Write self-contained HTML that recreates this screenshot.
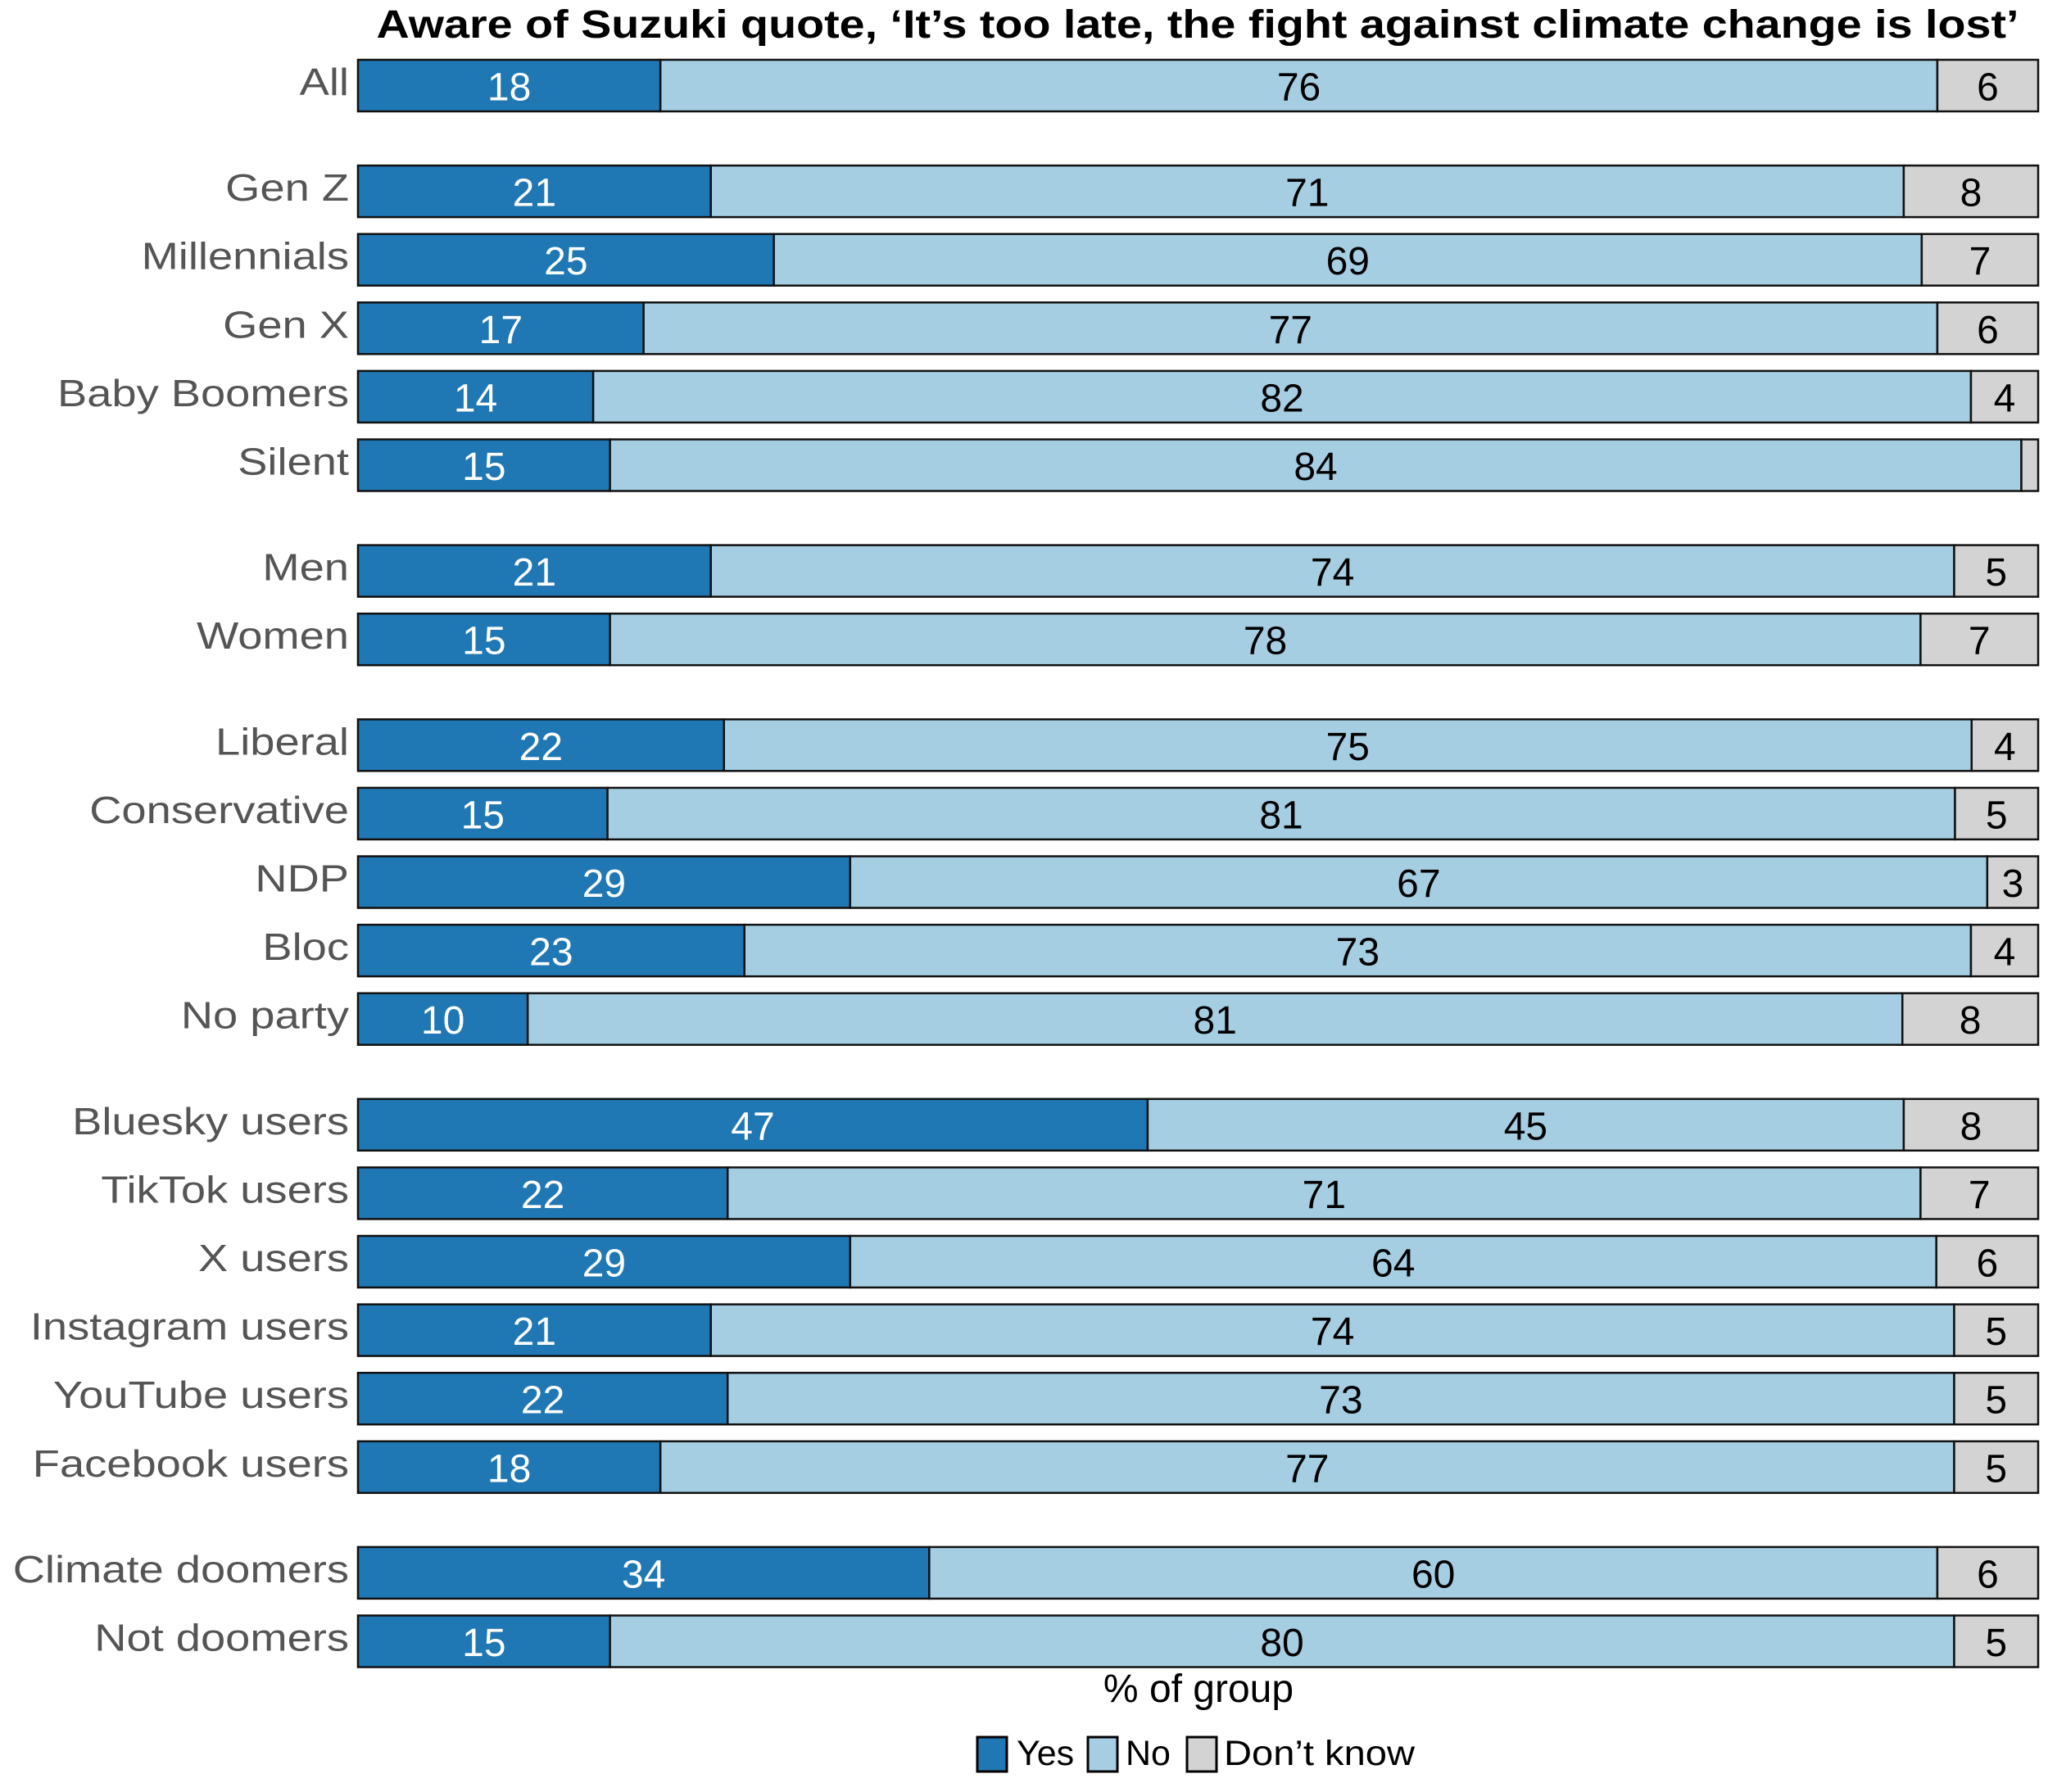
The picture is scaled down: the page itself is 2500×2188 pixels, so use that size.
<!DOCTYPE html>
<html><head><meta charset="utf-8"><style>
html,body{margin:0;padding:0;background:#fff;}
svg{display:block;font-family:"Liberation Sans",sans-serif;}
</style></head><body>
<svg id="chart" width="2500" height="2188" viewBox="0 0 2500 2188" xmlns="http://www.w3.org/2000/svg">
<text x="1462" y="46" text-anchor="middle" font-weight="bold" font-size="48" textLength="2005" lengthAdjust="spacingAndGlyphs" fill="#000">Aware of Suzuki quote, ‘It’s too late, the fight against climate change is lost’</text>
<g id="bars"></g>
<text x="1463" y="2078" text-anchor="middle" font-size="48" fill="#000">% of group</text>
<g>
<rect x="1193" y="2121" width="36" height="42" fill="#1f77b4" stroke="#000" stroke-width="3"/>
<text x="1241" y="2155" font-size="43" fill="#000">Yes</text>
<rect x="1328" y="2121" width="36" height="42" fill="#a6cee3" stroke="#000" stroke-width="3"/>
<text x="1374" y="2155" font-size="43" fill="#000">No</text>
<rect x="1449" y="2121" width="36" height="42" fill="#d3d3d3" stroke="#000" stroke-width="3"/>
<text x="1494" y="2155" font-size="43" fill="#000" textLength="233" lengthAdjust="spacingAndGlyphs">Don’t know</text>
</g>
</svg>
<script>
const categories = ["All","Gen Z","Millennials","Gen X","Baby Boomers","Silent","Men","Women","Liberal","Conservative","NDP","Bloc","No party","Bluesky users","TikTok users","X users","Instagram users","YouTube users","Facebook users","Climate doomers","Not doomers"];
const groups = [0,1,1,1,1,1,2,2,3,3,3,3,3,4,4,4,4,4,4,5,5];
const yesValues = [18,21,25,17,14,15,21,15,22,15,29,23,10,47,22,29,21,22,18,34,15];
const noValues = [76,71,69,77,82,84,74,78,75,81,67,73,81,45,71,64,74,73,77,60,80];
const dkValues = [6,8,7,6,4,1,5,7,4,5,3,4,8,8,7,6,5,5,5,6,5];

const NS = "http://www.w3.org/2000/svg";
const g = document.getElementById("bars");
const x0 = 437, x1 = 2488, top0 = 73, pitch = 83.6, gapExtra = 45.5, bh = 63;
function yPos(i){ return top0 + i*pitch + groups[i]*gapExtra; }
function xScale(v, total){ return (x1 - x0) * v / total; }
const colors = ["#1f77b4","#a6cee3","#d3d3d3"];
const keys = ["yes","no","dontknow"];
categories.forEach((c,i)=>{
  const y = yPos(i);
  const vals = [yesValues[i], noValues[i], dkValues[i]];
  const total = vals[0]+vals[1]+vals[2];
  const lab = document.createElementNS(NS,"text");
  
  
  lab.setAttribute("x", 426); lab.setAttribute("y", y + 43);
  lab.setAttribute("text-anchor","end"); lab.setAttribute("font-size","46"); lab.setAttribute("fill","#555");
  lab.textContent = c; g.appendChild(lab);
  const L = lab.getComputedTextLength();
  lab.setAttribute("textLength", L*1.18); lab.setAttribute("lengthAdjust","spacingAndGlyphs");
  let cx = x0;
  vals.forEach((v,k)=>{
    const w = xScale(v,total);
    const r = document.createElementNS(NS,"rect");
    
    
    r.setAttribute("x", cx); r.setAttribute("y", y); r.setAttribute("width", w); r.setAttribute("height", bh);
    r.setAttribute("fill", colors[k]); r.setAttribute("stroke","#111"); r.setAttribute("stroke-width","2.5");
    g.appendChild(r);
    if (v >= 2) {
      const t = document.createElementNS(NS,"text");
      
      
      t.setAttribute("x", cx + w/2); t.setAttribute("y", y + bh/2 + 18);
      t.setAttribute("text-anchor","middle"); t.setAttribute("font-size","48");
      t.setAttribute("fill", k===0 ? "#fff" : "#000");
      t.textContent = v; g.appendChild(t);
    }
    cx += w;
  });
});
</script>
</body></html>
